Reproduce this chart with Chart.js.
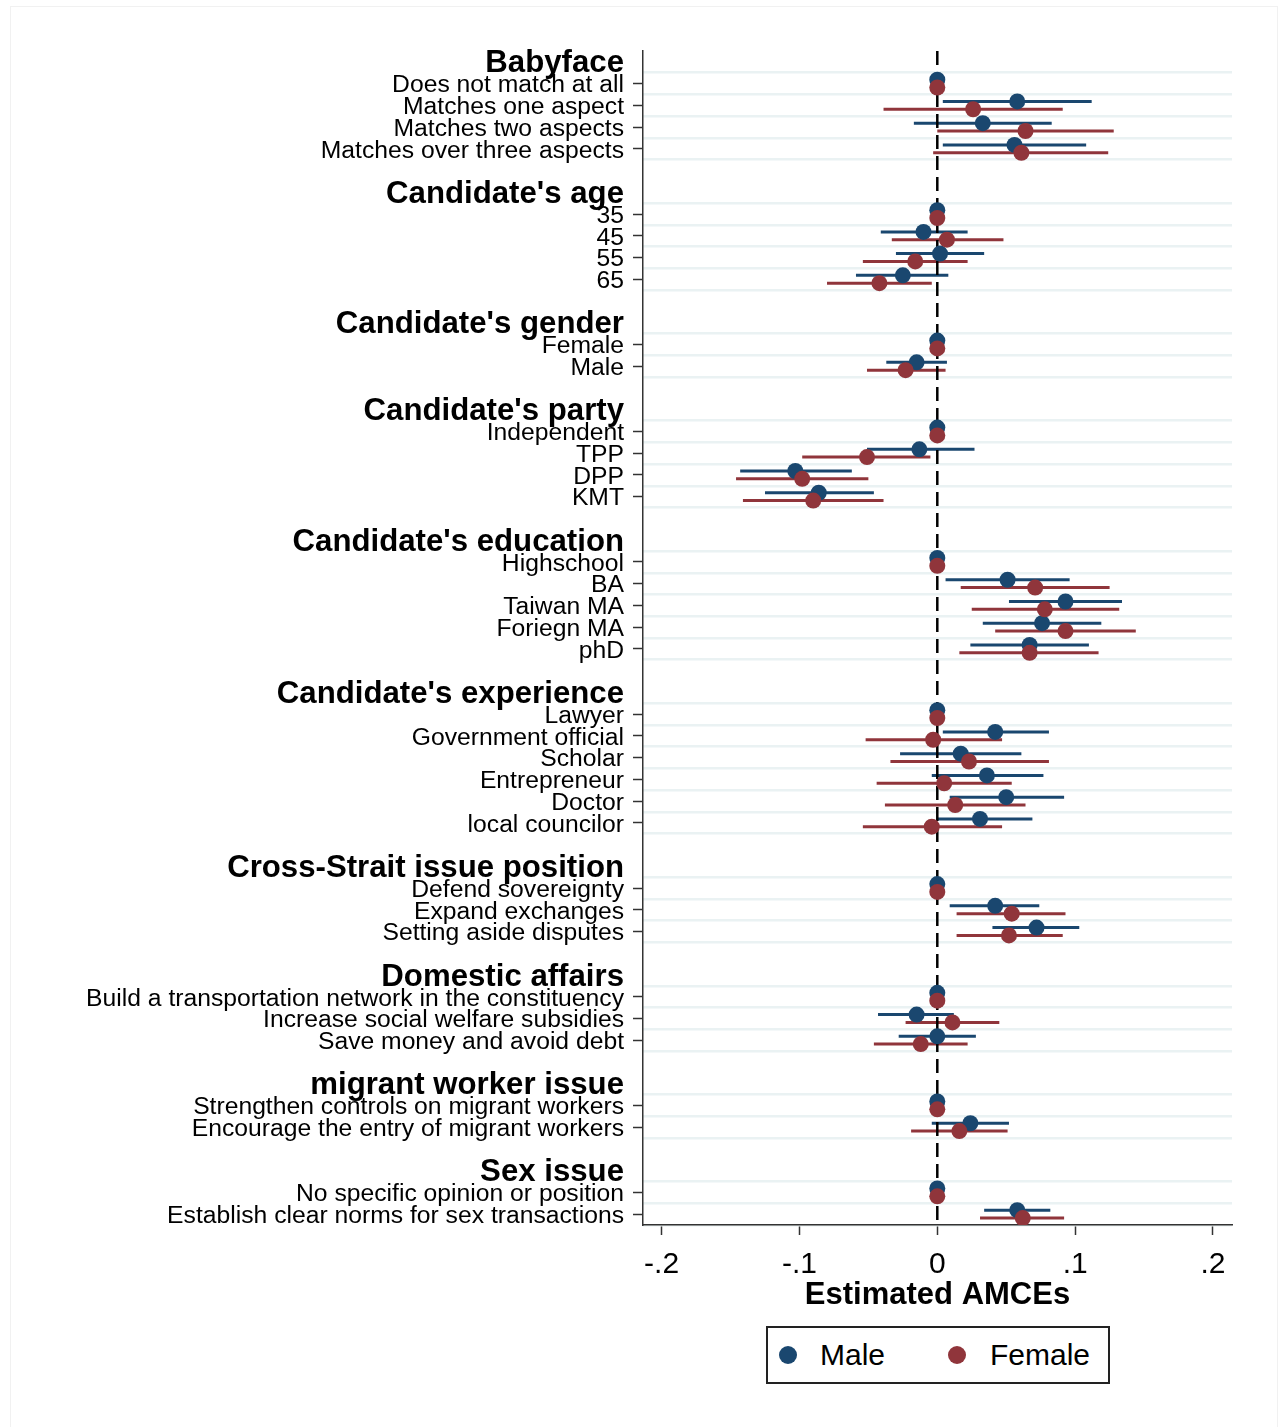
<!DOCTYPE html>
<html>
<head>
<meta charset="utf-8">
<title>Estimated AMCEs by respondent gender</title>
<script src="https://cdn.jsdelivr.net/npm/chart.js@4.4.0/dist/chart.umd.min.js"></script>
<style>
  html, body { margin: 0; padding: 0; background: #fff; }
  #wrap { position: relative; width: 1279px; height: 1427px; overflow: hidden; }
  #frame { position: absolute; left: 10px; top: 6px; width: 1268px; height: 1440px;
           border: 1px solid #f1f1f1; box-sizing: border-box; }
  #chart { position: absolute; left: 0; top: 0; }
  #legend { position: absolute; left: 766px; top: 1326px; width: 344px; height: 58px;
            border: 2px solid #222; box-sizing: border-box; background: #fff;
            font-family: "Liberation Sans", Arial, sans-serif; font-size: 30px; color: #000; }
  #legend .dot { position: absolute; width: 18px; height: 18px; border-radius: 50%; top: 18px; }
  #legend .txt { position: absolute; top: 10px; line-height: 34px; white-space: nowrap; }
</style>
</head>
<body>
<div id="wrap">
  <div id="frame"></div>
  <canvas id="chart" width="1279" height="1427"></canvas>
  <div id="legend"></div>
</div>
<script>
// Attribute groups and their levels (first level of each group is the reference category)
const groupNames = [
  "Babyface", "Candidate's age", "Candidate's gender", "Candidate's party",
  "Candidate's education", "Candidate's experience", "Cross-Strait issue position",
  "Domestic affairs", "migrant worker issue", "Sex issue"
];
const groupSizes = [4, 4, 2, 4, 5, 6, 3, 3, 2, 2];
const levelLabels = [
  "Does not match at all", "Matches one aspect", "Matches two aspects", "Matches over three aspects",
  "35", "45", "55", "65",
  "Female", "Male",
  "Independent", "TPP", "DPP", "KMT",
  "Highschool", "BA", "Taiwan MA", "Foriegn MA", "phD",
  "Lawyer", "Government official", "Scholar", "Entrepreneur", "Doctor", "local councilor",
  "Defend sovereignty", "Expand exchanges", "Setting aside disputes",
  "Build a transportation network in the constituency", "Increase social welfare subsidies", "Save money and avoid debt",
  "Strengthen controls on migrant workers", "Encourage the entry of migrant workers",
  "No specific opinion or position", "Establish clear norms for sex transactions"
];

// Male respondents: point estimates and 95% confidence bounds
const maleEst = [
  0, 0.058, 0.033, 0.056,
  0, -0.010, 0.002, -0.025,
  0, -0.015,
  0, -0.013, -0.103, -0.086,
  0, 0.051, 0.093, 0.076, 0.067,
  0, 0.042, 0.017, 0.036, 0.050, 0.031,
  0, 0.042, 0.072,
  0, -0.015, 0.000,
  0, 0.024,
  0, 0.058
];
const maleLow = [
  null, 0.004, -0.017, 0.004,
  null, -0.041, -0.030, -0.059,
  null, -0.037,
  null, -0.051, -0.143, -0.125,
  null, 0.006, 0.052, 0.033, 0.024,
  null, 0.004, -0.027, -0.004, 0.009, 0.000,
  null, 0.009, 0.040,
  null, -0.043, -0.028,
  null, -0.004,
  null, 0.034
];
const maleHigh = [
  null, 0.112, 0.083, 0.108,
  null, 0.022, 0.034, 0.008,
  null, 0.007,
  null, 0.027, -0.062, -0.046,
  null, 0.096, 0.134, 0.119, 0.110,
  null, 0.081, 0.061, 0.077, 0.092, 0.069,
  null, 0.074, 0.103,
  null, 0.012, 0.028,
  null, 0.052,
  null, 0.082
];

// Female respondents: point estimates and 95% confidence bounds
const femaleEst = [
  0, 0.026, 0.064, 0.061,
  0, 0.007, -0.016, -0.042,
  0, -0.023,
  0, -0.051, -0.098, -0.090,
  0, 0.071, 0.078, 0.093, 0.067,
  0, -0.003, 0.023, 0.005, 0.013, -0.004,
  0, 0.054, 0.052,
  0, 0.011, -0.012,
  0, 0.016,
  0, 0.062
];
const femaleLow = [
  null, -0.039, 0.000, -0.003,
  null, -0.033, -0.054, -0.080,
  null, -0.051,
  null, -0.098, -0.146, -0.141,
  null, 0.017, 0.025, 0.042, 0.016,
  null, -0.052, -0.034, -0.044, -0.038, -0.054,
  null, 0.014, 0.014,
  null, -0.023, -0.046,
  null, -0.019,
  null, 0.031
];
const femaleHigh = [
  null, 0.091, 0.128, 0.124,
  null, 0.048, 0.022, -0.004,
  null, 0.006,
  null, -0.005, -0.050, -0.039,
  null, 0.125, 0.132, 0.144, 0.117,
  null, 0.047, 0.081, 0.054, 0.064, 0.047,
  null, 0.093, 0.091,
  null, 0.045, 0.022,
  null, 0.051,
  null, 0.092
];

const xTicks = [-0.2, -0.1, 0, 0.1, 0.2];
const xTickLabels = ["-.2", "-.1", "0", ".1", ".2"];
const xTitle = "Estimated AMCEs";

const FONT = '"Liberation Sans", Arial, sans-serif';
const NAVY = "#1a476f";
const MAROON = "#90353b";
const GRID = "#eaf2f3";

// Lay the rows out: group heading, its levels, then a spacer before the next group
const rows = [];
const levelRow = [];
let pos = 0, li = 0;
groupNames.forEach((g, gi) => {
  if (gi > 0) pos++;
  rows.push({ pos: pos, label: g, header: true });
  pos++;
  for (let k = 0; k < groupSizes[gi]; k++) {
    rows.push({ pos: pos, label: levelLabels[li], header: false });
    levelRow.push(pos);
    pos++; li++;
  }
});
const yMin = -0.5, yMax = pos - 0.5;
const rowByPos = new Map(rows.map(r => [r.pos, r]));
const gridPos = [];
levelRow.forEach(p => { [p - 0.5, p + 0.5].forEach(v => { if (!gridPos.includes(v)) gridPos.push(v); }); });

const series = [
  { name: "Male",   color: NAVY,   est: maleEst,   low: maleLow,   high: maleHigh,   offset: -0.18 },
  { name: "Female", color: MAROON, est: femaleEst, low: femaleLow, high: femaleHigh, offset: 0.18 }
];

// Confidence intervals drawn as horizontal segments through the chart scales
const ciPlugin = {
  id: "ciBars",
  beforeDatasetsDraw(chart) {
    const { ctx, scales: { x, y } } = chart;
    ctx.save();
    ctx.lineWidth = 3;
    ctx.lineCap = "butt";
    series.forEach(s => {
      ctx.strokeStyle = s.color;
      s.low.forEach((lo, i) => {
        if (lo === null) return;
        const py = y.getPixelForValue(levelRow[i] + s.offset);
        ctx.beginPath();
        ctx.moveTo(x.getPixelForValue(lo), py);
        ctx.lineTo(x.getPixelForValue(s.high[i]), py);
        ctx.stroke();
      });
    });
    ctx.restore();
  }
};

const datasets = [
  {
    type: "line", label: "zero",
    data: [{ x: 0, y: yMin }, { x: 0, y: yMax }],
    borderColor: "#000", borderWidth: 2.5, borderDash: [14, 7],
    pointRadius: 0, order: 3
  }
].concat(series.map((s, si) => ({
  type: "scatter", label: s.name,
  data: s.est.map((v, i) => ({ x: v, y: levelRow[i] + s.offset })),
  backgroundColor: s.color, borderWidth: 0, pointRadius: 8,
  order: 2 - si
})));

Chart.defaults.font.family = FONT;
Chart.defaults.color = "#000";

new Chart(document.getElementById("chart"), {
  type: "scatter",
  data: { datasets },
  plugins: [ciPlugin],
  options: {
    responsive: false,
    devicePixelRatio: 1,
    animation: false,
    layout: { padding: { top: 51, right: 47, bottom: 109, left: 0 } },
    plugins: { legend: { display: false }, tooltip: { enabled: false } },
    scales: {
      x: {
        type: "linear", position: "bottom",
        min: -0.2135, max: 0.2138,
        afterBuildTicks: sc => { sc.ticks = xTicks.map(v => ({ value: v })); },
        afterFit: sc => { sc.height = 93; },
        ticks: {
          callback: v => xTickLabels[xTicks.indexOf(v)],
          font: { size: 30 }, color: "#000", padding: 12, maxRotation: 0, autoSkip: false
        },
        grid: { drawOnChartArea: false, tickLength: 10, tickColor: "#333", tickWidth: 1.5 },
        border: { color: "#333", width: 1.5 },
        title: { display: true, text: xTitle, font: { size: 31, weight: "bold" }, color: "#000", padding: { top: 0, bottom: 4 } }
      },
      yg: {
        type: "linear", position: "left", reverse: true,
        min: yMin, max: yMax,
        afterBuildTicks: sc => { sc.ticks = gridPos.map(v => ({ value: v })); },
        afterFit: sc => { sc.width = 0; },
        ticks: { display: false },
        grid: { color: GRID, lineWidth: 2.5, drawTicks: false },
        border: { display: false }
      },
      y: {
        type: "linear", position: "left", reverse: true,
        min: yMin, max: yMax,
        afterBuildTicks: sc => { sc.ticks = rows.map(r => ({ value: r.pos })); },
        afterFit: sc => { sc.width = 643; },
        ticks: {
          autoSkip: false, padding: 9, color: "#000", labelOffset: 2,
          callback: v => (rowByPos.get(v) || {}).label || "",
          font: c => {
            const r = rowByPos.get(c.tick && c.tick.value);
            return r && r.header ? { size: 31.2, weight: "bold" } : { size: 24.7 };
          }
        },
        grid: {
          drawOnChartArea: false, tickLength: 10, tickWidth: 1.5,
          tickColor: c => {
            const r = rowByPos.get(c.tick && c.tick.value);
            return r && r.header ? "rgba(0,0,0,0)" : "#333";
          }
        },
        border: { color: "#333", width: 1.5 }
      }
    }
  }
});

// Legend box
const legend = document.getElementById("legend");
const legendSlots = [{ dot: 11, txt: 52 }, { dot: 180, txt: 222 }];
series.forEach((s, i) => {
  const d = document.createElement("div");
  d.className = "dot"; d.style.left = legendSlots[i].dot + "px"; d.style.background = s.color;
  const t = document.createElement("div");
  t.className = "txt"; t.style.left = legendSlots[i].txt + "px"; t.textContent = s.name;
  legend.appendChild(d); legend.appendChild(t);
});
</script>
</body>
</html>
